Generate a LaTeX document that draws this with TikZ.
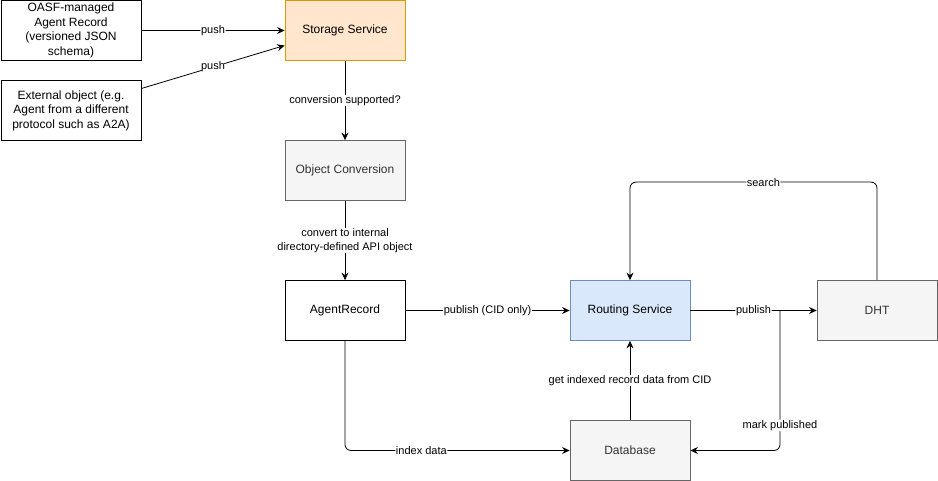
\documentclass[tikz,border=0pt]{standalone}
\usepackage{fontspec}
\setmainfont{Liberation Sans}
\usetikzlibrary{arrows.meta, positioning}
\definecolor{storagefill}{HTML}{FFE6CC}
\definecolor{storageline}{HTML}{D79B00}
\definecolor{routingfill}{HTML}{DAE8FC}
\definecolor{routingline}{HTML}{6C8EBF}
\definecolor{grayfill}{HTML}{F5F5F5}
\definecolor{grayline}{HTML}{666666}
\definecolor{graytext}{HTML}{333333}

\begin{document}
\begin{tikzpicture}[x=1pt, y=-1pt,
		box/.style={draw, line width=0.8pt, minimum width=120pt, minimum height=60pt, inner sep=0pt, align=center, font=\fontsize{12}{14.5}\selectfont},
		graybox/.style={box, draw=grayline, fill=grayfill, text=graytext},
		lbl/.style={fill=white, inner sep=0.6pt, align=center, font=\fontsize{11}{13.5}\selectfont},
		link/.style={line width=0.8pt, rounded corners=6pt, -{Stealth[length=7.5pt, width=7pt, inset=2.5pt]}}]
		
		\useasboundingbox (0,0) rectangle (938,481);
		
		% sources
		\node[box, minimum width=140pt] (oasf) at (71,30.5) {OASF-managed\\Agent Record\\(versioned JSON\\schema)};
		\node[box, minimum width=140pt] (ext) at (71,110.5) {External object (e.g.\\Agent from a different\\protocol such as A2A)};
		
		% services
		\node[box, draw=storageline, fill=storagefill] (storage) at (345,30.5) {Storage Service};
		\node[graybox] (conv) at (345,170.5) {Object Conversion};
		\node[box] (record) at (345,310.5) {AgentRecord};
		\node[box, draw=routingline, fill=routingfill] (routing) at (630,310.5) {Routing Service};
		\node[graybox] (dht) at (877,310.5) {DHT};
		\node[graybox] (db) at (630,450.5) {Database};
		\coordinate (fork) at (780,310.5);
		
		\draw[link] (oasf) -- node[lbl]{push} (storage);
		\draw[link] ([yshift=22pt]ext.east) -- node[lbl]{push} ([yshift=-15pt]storage.west);
		\draw[link] (storage) -- node[lbl]{conversion supported?} (conv);
		\draw[link] (conv) -- node[lbl]{convert to internal\\directory-defined API object} (record);
		\draw[link] (record) -- node[lbl]{publish (CID only)} (routing);
		\draw[link] (record.south) |- node[lbl, pos=0.67]{index data} (db.west);
		\draw[link] (db) -- node[lbl]{get indexed record data from CID} (routing);
		\draw[link] (routing) -- node[lbl]{publish} (dht);
		\draw[link] (fork) |- node[lbl, pos=0.41]{mark published} (db.east);
		\draw[link] (dht.north) -- ++(0,-98) -| node[lbl, pos=0.23]{search} (routing.north);
\end{tikzpicture}
\end{document}
